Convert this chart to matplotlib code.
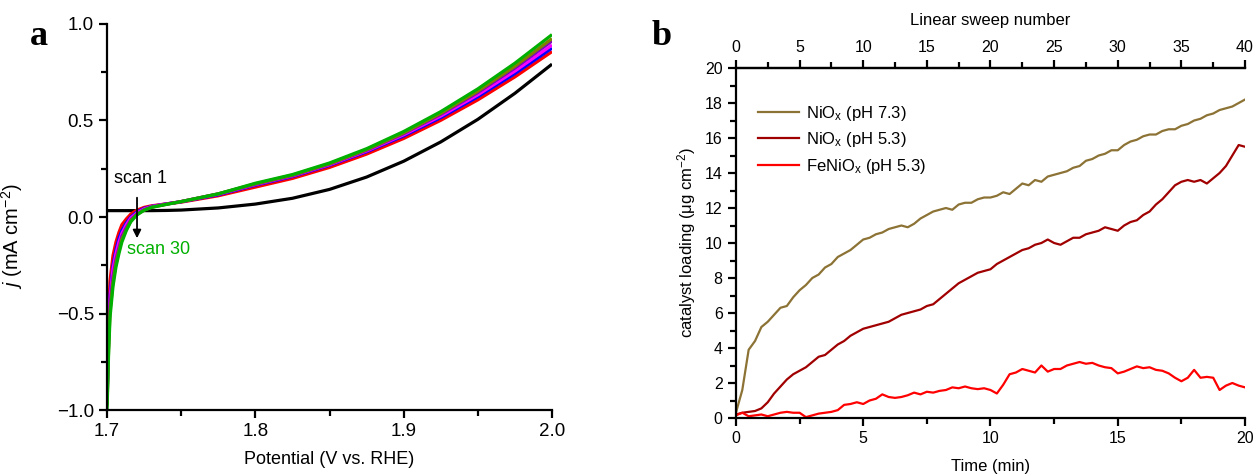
import matplotlib
matplotlib.use("Agg")
import matplotlib.pyplot as plt
from matplotlib.ticker import MultipleLocator

plt.rcParams['font.family'] = ['Liberation Sans', 'DejaVu Sans']
plt.rcParams['mathtext.fontset'] = 'custom'
plt.rcParams['mathtext.rm'] = 'Liberation Sans'
plt.rcParams['mathtext.it'] = 'Liberation Sans:italic'
plt.rcParams['axes.unicode_minus'] = True

# panel a: successive linear sweeps (scan 1 ... scan 30)
potential = [1.700, 1.701, 1.702, 1.704, 1.706, 1.708, 1.710, 1.713, 1.716,
             1.720, 1.725, 1.730, 1.740, 1.750, 1.775, 1.800, 1.825, 1.850,
             1.875, 1.900, 1.925, 1.950, 1.975, 2.000]
scan_black = [0.033, 0.033, 0.033, 0.033, 0.033, 0.033, 0.033, 0.033, 0.033,
              0.033, 0.033, 0.033, 0.034, 0.036, 0.047, 0.067, 0.097, 0.143,
              0.207, 0.289, 0.389, 0.506, 0.641, 0.792]
scan_red = [-0.9, -0.5, -0.33, -0.2, -0.13, -0.08, -0.04, -0.01, 0.015,
            0.035, 0.05, 0.058, 0.068, 0.077, 0.11, 0.155, 0.2, 0.257,
            0.326, 0.407, 0.501, 0.607, 0.726, 0.857]
scan_blue = [-0.95, -0.6, -0.4, -0.25, -0.17, -0.11, -0.07, -0.03, 0.0,
             0.025, 0.045, 0.055, 0.068, 0.079, 0.115, 0.165, 0.21, 0.268,
             0.338, 0.42, 0.515, 0.623, 0.743, 0.875]
scan_magenta = [-0.95, -0.62, -0.42, -0.27, -0.19, -0.13, -0.085, -0.04, -0.005,
                0.02, 0.042, 0.054, 0.068, 0.08, 0.118, 0.168, 0.213, 0.271,
                0.342, 0.426, 0.523, 0.633, 0.756, 0.891]
scan_purple = [-0.97, -0.66, -0.46, -0.31, -0.22, -0.16, -0.1, -0.055, -0.015,
               0.015, 0.038, 0.052, 0.067, 0.08, 0.12, 0.17, 0.215, 0.274,
               0.346, 0.432, 0.532, 0.645, 0.772, 0.912]
scan_olive = [-0.98, -0.69, -0.49, -0.34, -0.24, -0.175, -0.115, -0.065, -0.02,
              0.012, 0.036, 0.05, 0.066, 0.08, 0.12, 0.172, 0.217, 0.276,
              0.349, 0.436, 0.537, 0.652, 0.781, 0.924]
scan_green = [-1.0, -0.72, -0.52, -0.36, -0.26, -0.19, -0.13, -0.07, -0.025,
              0.01, 0.035, 0.05, 0.065, 0.08, 0.12, 0.175, 0.22, 0.28,
              0.354, 0.443, 0.546, 0.664, 0.797, 0.945]
scans = [scan_black, scan_red, scan_blue, scan_magenta, scan_purple, scan_olive, scan_green]
scan_colors = ['black', '#ff0000', '#0000ff', '#ff00ff', '#8000c0', '#808000', '#00b000']

# panel b: catalyst loading vs time
time_min = [i * 0.25 for i in range(81)]
nio_73 = [0.3, 1.6, 3.9, 4.4, 5.2, 5.5, 5.9, 6.3, 6.4, 6.9, 7.3, 7.6, 8.0, 8.2,
          8.6, 8.8, 9.2, 9.4, 9.6, 9.9, 10.2, 10.3, 10.5, 10.6, 10.8, 10.9, 11.0,
          10.9, 11.1, 11.4, 11.6, 11.8, 11.9, 12.0, 11.9, 12.2, 12.3, 12.3, 12.5,
          12.6, 12.6, 12.7, 12.9, 12.8, 13.1, 13.4, 13.3, 13.6, 13.5, 13.8, 13.9,
          14.0, 14.1, 14.3, 14.4, 14.7, 14.8, 15.0, 15.1, 15.3, 15.3, 15.6, 15.8,
          15.9, 16.1, 16.2, 16.2, 16.4, 16.5, 16.5, 16.7, 16.8, 17.0, 17.1, 17.3,
          17.4, 17.6, 17.7, 17.8, 18.0, 18.2]
nio_53 = [0.2, 0.3, 0.35, 0.4, 0.55, 0.9, 1.4, 1.8, 2.2, 2.5, 2.7, 2.9, 3.2, 3.5,
          3.6, 3.9, 4.2, 4.4, 4.7, 4.9, 5.1, 5.2, 5.3, 5.4, 5.5, 5.7, 5.9, 6.0,
          6.1, 6.2, 6.4, 6.5, 6.8, 7.1, 7.4, 7.7, 7.9, 8.1, 8.3, 8.4, 8.5, 8.8,
          9.0, 9.2, 9.4, 9.6, 9.7, 9.9, 10.0, 10.2, 10.0, 9.9, 10.1, 10.3, 10.3,
          10.5, 10.6, 10.7, 10.9, 10.8, 10.7, 11.0, 11.2, 11.3, 11.6, 11.8, 12.2,
          12.5, 12.9, 13.3, 13.5, 13.6, 13.5, 13.6, 13.4, 13.7, 14.0, 14.4, 15.0,
          15.6, 15.5]
fenio_53 = [0.15, 0.3, 0.1, 0.15, 0.2, 0.1, 0.2, 0.3, 0.35, 0.3, 0.3, 0.05, 0.15,
            0.25, 0.3, 0.35, 0.45, 0.75, 0.8, 0.9, 0.8, 1.0, 1.1, 1.35, 1.2, 1.15,
            1.2, 1.3, 1.45, 1.35, 1.5, 1.45, 1.55, 1.6, 1.75, 1.7, 1.8, 1.7, 1.65,
            1.7, 1.6, 1.4, 1.9, 2.5, 2.6, 2.8, 2.7, 2.6, 3.0, 2.65, 2.8, 2.8, 3.0,
            3.1, 3.2, 3.1, 3.15, 3.0, 2.9, 2.85, 2.55, 2.65, 2.8, 2.95, 2.85, 2.9,
            2.75, 2.7, 2.55, 2.3, 2.1, 2.3, 2.75, 2.3, 2.35, 2.3, 1.6, 1.85, 2.0,
            1.85, 1.75]
series_labels = [r'NiO$_\mathregular{x}$ (pH 7.3)', r'NiO$_\mathregular{x}$ (pH 5.3)',
                 r'FeNiO$_\mathregular{x}$ (pH 5.3)']
series_colors = ['#8c7335', '#a00000', '#ff0000']

fig = plt.figure(figsize=(12.58, 4.75), dpi=100)

# ---- panel a
axa = fig.add_axes([0.0851, 0.1368, 0.3537, 0.8127])
for vals, c in zip(scans, scan_colors):
    axa.plot(potential, vals, color=c, lw=2.3, solid_capstyle='butt')
axa.set_xlim(1.7, 2.0)
axa.set_ylim(-1.0, 1.0)
axa.xaxis.set_major_locator(MultipleLocator(0.1))
axa.xaxis.set_minor_locator(MultipleLocator(0.05))
axa.yaxis.set_major_locator(MultipleLocator(0.5))
axa.yaxis.set_minor_locator(MultipleLocator(0.25))
axa.spines['top'].set_visible(False)
axa.spines['right'].set_visible(False)
for s in ('left', 'bottom'):
    axa.spines[s].set_linewidth(1.6)
axa.tick_params(which='major', direction='out', length=6, width=1.6, labelsize=13.5)
axa.tick_params(which='minor', direction='out', length=4, width=1.6)
axa.set_xlabel('Potential (V vs. RHE)', fontsize=13, labelpad=8)
axa.set_ylabel(r'$j$ (mA cm$^{-2}$)', fontsize=14.5)
axa.yaxis.set_label_coords(-0.185, 0.45)
axa.text(1.7045, 0.2, 'scan 1', fontsize=13, va='center', ha='left')
axa.text(1.7135, -0.17, 'scan 30', fontsize=13, va='center', ha='left', color='#00b000')
axa.annotate('', xy=(1.7202, -0.11), xytext=(1.7202, 0.10),
             arrowprops=dict(arrowstyle='-|>', color='black', lw=1.3,
                             mutation_scale=12, shrinkA=0, shrinkB=0))
fig.text(0.024, 0.905, 'a', fontsize=26, fontweight='bold', family='Liberation Serif')

# ---- panel b
axb = fig.add_axes([0.585, 0.12, 0.4047, 0.7368])
for vals, c, lab in zip([nio_73, nio_53, fenio_53], series_colors, series_labels):
    axb.plot(time_min, vals, color=c, lw=1.6, label=lab)
axb.set_xlim(0, 20)
axb.set_ylim(0, 20)
axb.xaxis.set_major_locator(MultipleLocator(5))
axb.xaxis.set_minor_locator(MultipleLocator(2.5))
axb.yaxis.set_major_locator(MultipleLocator(2))
axb.yaxis.set_minor_locator(MultipleLocator(1))
axb.spines['right'].set_visible(False)
for s in ('left', 'bottom', 'top'):
    axb.spines[s].set_linewidth(1.6)
axb.tick_params(which='major', direction='out', length=6, width=1.6, labelsize=11.5)
axb.tick_params(which='minor', direction='out', length=4, width=1.6)
axb.set_xlabel('Time (min)', fontsize=12, labelpad=9)
axb.set_ylabel(r'catalyst loading ($\mathregular{\mu}$g cm$^{-2}$)', fontsize=12, labelpad=5)
axb.legend(loc='upper left', bbox_to_anchor=(0.0, 0.96), frameon=False, fontsize=12,
           handlelength=2.5, handletextpad=0.4, labelspacing=0.45, borderaxespad=0.9)

axt = axb.twiny()
axt.set_xlim(0, 40)
axt.xaxis.set_major_locator(MultipleLocator(5))
axt.xaxis.set_minor_locator(MultipleLocator(2.5))
for s in ('left', 'bottom', 'right'):
    axt.spines[s].set_visible(False)
axt.spines['top'].set_linewidth(1.6)
axt.tick_params(which='major', direction='out', length=6, width=1.6, labelsize=11.5)
axt.tick_params(which='minor', direction='out', length=4, width=1.6)
axt.set_xlabel('Linear sweep number', fontsize=12, labelpad=11)
fig.text(0.518, 0.905, 'b', fontsize=26, fontweight='bold', family='Liberation Serif')

fig.savefig('out.png', dpi=100)
